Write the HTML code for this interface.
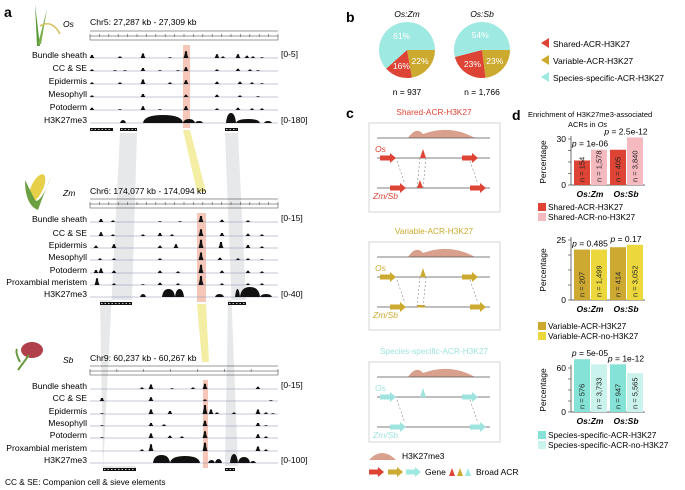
<!DOCTYPE html>
<html><head><meta charset="utf-8"><style>
body{margin:0;background:#fff}
svg{display:block;font-family:"Liberation Sans",Arial,sans-serif}
</style></head><body>
<svg id="fig" width="685" height="490" viewBox="0 0 685 490">
<g id="bg"></g>
<g id="panelA"></g>
<g id="panelB"></g>
<g id="panelC"></g>
<g id="panelD"></g>
</svg>
<script>
// ---------- data ----------
const pieTitles=["Os:Zm","Os:Sb"];
const pieN=["n = 937","n = 1,766"];
const pieShared=[16,23];
const pieVariable=[22,23];
const pieSpecific=[61,54];
const pieLegend=["Shared-ACR-H3K27","Variable-ACR-H3K27","Species-specific-ACR-H3K27"];

const barCats=["Os:Zm","Os:Sb"];
const sharedWith=[16,23], sharedWithout=[23,31];
const sharedNWith=["n = 154","n = 405"], sharedNWithout=["n = 1,578","n = 3,840"];
const sharedP=["p = 1e-06","p = 2.5e-12"];
const varWith=[21,22], varWithout=[21,23];
const varNWith=["n = 207","n = 414"], varNWithout=["n = 1,499","n = 3,052"];
const varP=["p = 0.485","p = 0.17"];
const specWith=[72,65], specWithout=[65,53];
const specNWith=["n = 576","n = 947"], specNWithout=["n = 3,733","n = 5,565"];
const specP=["p = 5e-05","p = 1e-12"];

const NS="http://www.w3.org/2000/svg";
function el(tag,attrs,parent,text){const e=document.createElementNS(NS,tag);for(const k in attrs)e.setAttribute(k,attrs[k]);if(text!==undefined)e.textContent=text;parent.appendChild(e);return e;}
const A=document.getElementById('panelA'),B=document.getElementById('panelB'),C=document.getElementById('panelC'),D=document.getElementById('panelD'),BG=document.getElementById('bg');

// ---------- panel a ----------
let t=el('text',{x:4,y:17,'font-size':14,'font-weight':'bold'},A,'a');

let p=el('polygon',{points:'120,133 137,133 132,300 100,300 103,466 136,466 136,470 103,470',fill:'#e2e4e6',opacity:0.85},BG);

p=el('polygon',{points:'225,133 238,133 246,300 228,300 225,466 238,466',fill:'#e2e4e6',opacity:0.85},BG);

p=el('polygon',{points:'183,130 190,130 206,192 197,192',fill:'#f3ec9a',opacity:0.9},BG);

p=el('polygon',{points:'197,304 206,304 209,362 202,362',fill:'#f3ec9a',opacity:0.9},BG);


const species=[
 {name:'Os',title:'Chr5: 27,287 kb - 27,309 kb',ty:25,ruler:31,hl:[183,190],
  tracks:['Bundle sheath','CC & SE','Epidermis','Mesophyll','Potoderm'],ys:[58,71,84,97,110],hy:123,
  scale:['[0-5]','[0-180]'],
  peaks:[[[92,4],[120,2],[143,6],[170,1],[186,9],[217,5],[223,2],[238,5],[247,3],[253,2],[262,1]],
         [[92,2],[115,1],[125,1],[143,4],[160,1],[178,1],[186,5],[217,2],[238,3],[250,2],[258,1]],
         [[92,2],[120,2],[143,6],[170,2],[186,5],[217,3],[240,3],[252,2],[262,1]],
         [[92,2],[143,4],[186,3],[217,3],[240,2],[258,1]],
         [[92,3],[120,1],[143,5],[160,1],[186,5],[217,2],[238,3],[252,2],[262,2]]],
  broad:[[120,126,3],[143,183,8],[183,195,4],[195,203,2],[226,236,10],[236,260,4],[264,272,2]],
  genes:[[90,113],[120,137],[225,238]],plant:{x:32,y:4}},
 {name:'Zm',title:'Chr6: 174,077 kb - 174,094 kb',ty:194,ruler:199,hl:[197,206],
  tracks:['Bundle sheath','CC & SE','Epidermis','Mesophyll','Potoderm','Proxambial meristem'],ys:[222,236,248,260,273,285],hy:297,
  scale:['[0-15]','[0-40]'],
  peaks:[[[101,4],[113,2],[160,1],[180,1],[201,8],[222,3],[248,2]],
         [[101,5],[113,2],[143,2],[160,4],[172,2],[201,9],[222,4],[248,3],[262,2]],
         [[96,3],[114,5],[160,3],[176,5],[201,11],[221,8],[248,4],[262,2]],
         [[100,2],[114,2],[160,2],[201,10],[220,3],[238,2],[248,2],[262,1]],
         [[96,4],[101,6],[114,3],[160,3],[178,2],[201,11],[222,3],[248,3],[262,2]],
         [[97,9],[114,2],[143,1],[160,3],[178,2],[201,12],[222,2],[248,2],[262,2]]],
  broad:[[140,146,3],[162,175,8],[175,184,8],[215,224,3],[235,240,8],[240,260,10],[260,272,3]],
  genes:[[100,132],[228,246]],plant:{x:20,y:170}},
 {name:'Sb',title:'Chr9: 60,237 kb - 60,267 kb',ty:361,ruler:366,hl:[203,208],
  tracks:['Bundle sheath','CC & SE','Epidermis','Mesophyll','Potoderm','Proxambial meristem'],ys:[389,401,414,426,438,451],hy:463,
  scale:['[0-15]','[0-100]'],
  peaks:[[[142,2],[151,6],[172,1],[193,2],[205,7],[258,3]],
         [[102,4],[151,5],[205,2],[271,1]],
         [[102,1],[151,6],[170,4],[205,12],[211,6],[217,2],[234,2],[258,6],[266,2],[273,1]],
         [[102,1],[151,4],[164,2],[205,7],[258,4],[266,1]],
         [[102,1],[151,6],[170,3],[182,2],[205,9],[258,5],[266,2]],
         [[142,2],[151,9],[205,11],[258,6],[266,2]]],
  broad:[[153,170,8],[170,200,7],[208,215,3],[215,222,4],[230,238,9],[238,250,6],[250,256,2]],
  genes:[[103,136],[225,235]],plant:{x:15,y:337}}
];
function peakPath(base,peaks,w){
  let d='M90,'+base;
  peaks.forEach(pk=>{const x=pk[0],h=pk[1]*0.75;d+=` L${x-w},${base} L${x-w/2},${base-h*0.6} L${x-1},${base-h} L${x+1},${base-h} L${x+w/2},${base-h*0.5} L${x+w},${base}`;});
  return d+' L278,'+base+' Z';
}
species.forEach((s,si)=>{
  const g=el('g',{},A);
  
  const top=s.ruler+14, bot=s.hy+5;
  let r=el('rect',{x:s.hl[0],y:top,width:s.hl[1]-s.hl[0],height:bot-top,fill:'#f4b9a8',opacity:0.8},g);
  
  const pg=el('g',{},g);
  const px=s.plant.x,py=s.plant.y;
  if(si===0){el('path',{d:`M${px+5},${py+42} L${px+3},${py} L${px+8},${py+42} Z`,fill:'#5a9a3a'},pg);el('path',{d:`M${px+6},${py+40} L${px+15},${py+5} L${px+9},${py+40}Z`,fill:'#7ab04a'},pg);el('path',{d:`M${px+8},${py+22} Q${px+20},${py+15} ${px+28},${py+30}`,stroke:'#d9c060',fill:'none','stroke-width':1.5},pg);}
  else if(si===1){el('ellipse',{cx:px+17,cy:py+18,rx:6,ry:15,fill:'#e6d04a',transform:`rotate(25 ${px+17} ${py+18})`},pg);el('path',{d:`M${px+5},${py+10} Q${px+5},${py+35} ${px+18},${py+40} Q${px+25},${py+20} ${px+32},${py+5} Q${px+20},${py+35} ${px+15},${py+30}Z`,fill:'#6aa040'},pg);}
  else {el('ellipse',{cx:px+17,cy:py+13,rx:11,ry:8,fill:'#b0404a'},pg);el('path',{d:`M${px+3},${py+33} L${px+14},${py+18}`,stroke:'#6a9a40','stroke-width':2},pg);el('path',{d:`M${px+5},${py+25} Q${px},${py+15} ${px+2},${py+12}`,stroke:'#6a9a40','stroke-width':2,fill:'none'},pg);}
  t=el('text',{x:63,y:s.ty+2,'font-size':8.5,'font-style':'italic'},g,s.name);
  
  t=el('text',{x:90,y:s.ty,'font-size':8.6},g,s.title);
  
  const rg=el('g',{},g);
  el('line',{x1:90,y1:s.ruler,x2:278,y2:s.ruler,stroke:'#333','stroke-width':0.6},rg);
  el('rect',{x:90,y:s.ruler+5,width:188,height:4,fill:'none',stroke:'#555','stroke-width':0.6},rg);
  const nt=si===2?7:20;
  for(let i=0;i<=nt;i++){const x=90+188*i/nt;el('line',{x1:x,y1:s.ruler+3,x2:x,y2:s.ruler+6,stroke:'#555','stroke-width':0.6},rg);}
  s.tracks.forEach((nm,i)=>{
    const y=s.ys[i];
    t=el('text',{x:87,y:y,'font-size':8.6,'text-anchor':'end'},g,nm);
    
    el('line',{x1:90,y1:y,x2:278,y2:y,stroke:'#8a8fb0','stroke-width':0.6},g);
    const pth=el('path',{d:peakPath(y,s.peaks[i],2.5),fill:'#111'},g);
    
  });
  t=el('text',{x:87,y:s.hy,'font-size':8.6,'text-anchor':'end'},g,'H3K27me3');
  
  el('line',{x1:90,y1:s.hy,x2:278,y2:s.hy,stroke:'#8a8fb0','stroke-width':0.6},g);
  let d='';
  s.broad.forEach(b=>{d+=`M${b[0]},${s.hy} Q${b[0]+1},${s.hy-b[2]} ${(b[0]+b[1])/2},${s.hy-b[2]} Q${b[1]-1},${s.hy-b[2]} ${b[1]},${s.hy} Z `;});
  let bp=el('path',{d:d,fill:'#111'},g);
  
  t=el('text',{x:281,y:s.ys[0]-1,'font-size':8.5},g,s.scale[0]);
  
  t=el('text',{x:281,y:s.hy,'font-size':8.5},g,s.scale[1]);
  
  s.genes.forEach(gn=>{
    let gr=el('rect',{x:gn[0],y:s.hy+5,width:gn[1]-gn[0],height:3,fill:'#111'},g);
    
    el('line',{x1:gn[0]+1,y1:s.hy+6.5,x2:gn[1]-1,y2:s.hy+6.5,stroke:'#fff','stroke-width':0.8,'stroke-dasharray':'1.5,2'},g);
  });
});
t=el('text',{x:5,y:485,'font-size':8.3},A,'CC & SE: Companion cell & sieve elements');


// ---------- panel b ----------
t=el('text',{x:346,y:22,'font-size':14,'font-weight':'bold'},B,'b');

const colRed='#dd4435',colGold='#ccaa30',colCyan='#9ee9e2';
function arc(cx,cy,r,a0,a1,col,parent){
  const rad=a=>(a-90)*Math.PI/180;
  const x0=cx+r*Math.cos(rad(a0)),y0=cy+r*Math.sin(rad(a0)),x1=cx+r*Math.cos(rad(a1)),y1=cy+r*Math.sin(rad(a1));
  return el('path',{d:`M${cx},${cy} L${x0},${y0} A${r},${r} 0 ${a1-a0>180?1:0} 1 ${x1},${y1} Z`,fill:col},parent);
}
pieTitles.forEach((tt,i)=>{
  const cx=407+i*75,cy=50,r=28;
  const g=el('g',{},B);
  const tot=pieShared[i]+pieVariable[i]+pieSpecific[i];
  const aV=pieVariable[i]/tot*360,aS=pieShared[i]/tot*360;
  let s=arc(cx,cy,r,90,90+aV,colGold,g);
  s=arc(cx,cy,r,90+aV,90+aV+aS,colRed,g);
  s=arc(cx,cy,r,90+aV+aS,450,colCyan,g);
  const lab=(mid,rr,txt)=>{const a=(mid-90)*Math.PI/180;const tx=el('text',{x:cx+rr*Math.cos(a),y:cy+rr*Math.sin(a)+3,'font-size':8.5,fill:'#fff','text-anchor':'middle'},g,txt);};
  lab(90+aV/2,17,pieVariable[i]+'%');lab(90+aV+aS/2,17,pieShared[i]+'%');lab((90+aV+aS+450)/2,15,pieSpecific[i]+'%');
  t=el('text',{x:cx,y:17,'font-size':8.5,'font-style':'italic','text-anchor':'middle'},g,tt);
  
  t=el('text',{x:cx,y:95,'font-size':8.5,'text-anchor':'middle'},g,pieN[i]);
  
});
[colRed,colGold,colCyan].forEach((c,i)=>{
  const y=47+i*17;
  const lg=el('g',{},B);
  el('path',{d:`M541,${y-4} L549,${y-9} L549,${y+1} Z`,fill:c},lg);
  el('text',{x:553,y:y,'font-size':8.5},lg,pieLegend[i]);
});

// ---------- panel c ----------
t=el('text',{x:346,y:118,'font-size':14,'font-weight':'bold'},C,'c');

const boxes=[{title:'Shared-ACR-H3K27',col:colRed,ty:115,y:123,h:89,peak2:true},
             {title:'Variable-ACR-H3K27',col:colGold,ty:234,y:242,h:88,peak2:'small'},
             {title:'Species-specific-ACR-H3K27',col:'#9fe3df',ty:354,y:362,h:80,peak2:false}];
boxes.forEach((b,i)=>{
  const g=el('g',{},C);
  t=el('text',{x:434,y:b.ty,'font-size':8.3,fill:b.col,'text-anchor':'middle'},g,b.title);
  
  el('rect',{x:369,y:b.y,width:131,height:b.h,fill:'#fff',stroke:'#ccc','stroke-width':0.8},g);
  const y0=b.y+15,y1=b.y+35,y2=b.y+65;
  el('path',{d:`M408,${y0} Q416,${y0-12} 423,${y0-4} Q450,${y0-14} 475,${y0} Z`,fill:'#d9a08e'},g);
  [y0,y1,y2].forEach(y=>{el('line',{x1:377,y1:y,x2:490,y2:y,stroke:'#555','stroke-width':0.7},g);});
  const arrow=(x,y)=>{el('path',{d:`M${x},${y-2.5} L${x+10},${y-2.5} L${x+10},${y-5} L${x+16},${y} L${x+10},${y+5} L${x+10},${y+2.5} L${x},${y+2.5}Z`,fill:b.col},g);};
  arrow(380,y1);arrow(462,y1);arrow(390,y2);arrow(470,y2);
  el('path',{d:`M420,${y1} L423,${y1-9} L426,${y1} Z`,fill:b.col},g);
  if(b.peak2===true)el('path',{d:`M417,${y2} L420,${y2-8} L423,${y2} Z`,fill:b.col},g);
  if(b.peak2==='small')el('rect',{x:417,y:y2-2,width:8,height:2.5,fill:b.col},g);
  el('line',{x1:397,y1:y1+3,x2:405,y2:y2-4,stroke:'#888','stroke-dasharray':'2,2','stroke-width':0.6},g);
  el('line',{x1:470,y1:y1+3,x2:478,y2:y2-4,stroke:'#888','stroke-dasharray':'2,2','stroke-width':0.6},g);
  if(b.peak2){el('line',{x1:420,y1:y1,x2:417,y2:y2,stroke:'#888','stroke-dasharray':'2,2','stroke-width':0.6},g);el('line',{x1:426,y1:y1,x2:423,y2:y2,stroke:'#888','stroke-dasharray':'2,2','stroke-width':0.6},g);}
  t=el('text',{x:375,y:y1-6,'font-size':8.5,'font-style':'italic',fill:b.col},g,'Os');
  
  t=el('text',{x:373,y:y2+11,'font-size':8.5,'font-style':'italic',fill:b.col},g,'Zm/Sb');
  
});
const cl=el('g',{},C);
el('path',{d:'M369,460 Q382,446 396,460 Z',fill:'#d9a08e'},cl);
el('text',{x:402,y:459,'font-size':8.5},cl,'H3K27me3');
[[369,colRed],[388,colGold],[406,colCyan]].forEach(a=>{const x=a[0],y=472;el('path',{d:`M${x},${y-2.5} L${x+9},${y-2.5} L${x+9},${y-5} L${x+15},${y} L${x+9},${y+5} L${x+9},${y+2.5} L${x},${y+2.5}Z`,fill:a[1]},cl);});
el('text',{x:425,y:475,'font-size':8.5},cl,'Gene');
[[449,colRed],[457,colGold],[465,colCyan]].forEach(a=>el('path',{d:`M${a[0]},476 L${a[0]+3},468 L${a[0]+6},476Z`,fill:a[1]},cl));
el('text',{x:476,y:475,'font-size':8.5},cl,'Broad ACR');

// ---------- panel d ----------
t=el('text',{x:512,y:120,'font-size':14,'font-weight':'bold'},D,'d');

t=el('text',{x:528,y:117,'font-size':7.5},D,'Enrichment of H3K27me3-associated');

t=el('text',{x:568,y:127,'font-size':7.5},D,'ACRs in ');
el('tspan',{'font-style':'italic'},t,'Os');

function barChart(o){
  const g=el('g',{},D);
  const yS=v=>o.y0-(v/o.tick)*(o.y0-o.yT);
  el('line',{x1:571,y1:o.yT-3,x2:571,y2:o.y0,stroke:'#333','stroke-width':0.7},g);
  for(let k=0;k<=4;k++){const yy=o.y0-(o.y0-o.yT)*k/4;el('line',{x1:568,y1:yy,x2:571,y2:yy,stroke:'#333','stroke-width':0.6},g);}
  t=el('text',{x:566,y:o.yT+3,'font-size':8.5,'text-anchor':'end'},g,String(o.tick));
  t=el('text',{x:566,y:o.y0+3,'font-size':8.5,'text-anchor':'end'},g,'0');
  const my=(o.y0+o.yT)/2;
  t=el('text',{x:546,y:my,'font-size':8.5,'text-anchor':'middle',transform:`rotate(-90 546 ${my})`},g,'Percentage');
  
  el('line',{x1:571,y1:o.y0,x2:645,y2:o.y0,stroke:'#333','stroke-width':0.7},g);
  barCats.forEach((c,i)=>{
    const gx=574+i*36;
    [[o.w,o.c1,o.nw],[o.wo,o.c2,o.nwo]].forEach((s,j)=>{
      const x=gx+j*17,top=yS(s[0][i]);
      const r=el('rect',{x:x,y:top,width:16,height:o.y0-top,fill:s[1]},g);
      
      const tx=el('text',{x:0,y:0,'font-size':7.5,'text-anchor':'start',transform:`translate(${x+10.5},${o.y0-3}) rotate(-90)`,fill:'#222'},g,s[2][i]);
      
    });
    t=el('text',{x:gx+16,y:o.y0+12,'font-size':8.5,'font-style':'italic','text-anchor':'middle','font-weight':'bold'},g,c);
    
    const py=Math.min(yS(o.w[i]),yS(o.wo[i]))-3;
    t=el('text',{x:gx+16,y:py,'font-size':8.5,'text-anchor':'middle'},g,'');
    el('tspan',{'font-style':'italic'},t,'p');t.appendChild(document.createTextNode(o.p[i].slice(1)));
    
  });
  o.leg.forEach((L,k)=>{
    const lg=el('g',{},g);
    el('rect',{x:538,y:o.ly+k*10-7,width:8,height:8,fill:k?o.c2:o.c1},lg);
    el('text',{x:548,y:o.ly+k*10,'font-size':8.3},lg,L);
  });
}
barChart({name:'shared-bar-chart',y0:185,yT:139,tick:30,w:sharedWith,wo:sharedWithout,nw:sharedNWith,nwo:sharedNWithout,p:sharedP,c1:'#dd4435',c2:'#f5b9c0',ly:210,leg:['Shared-ACR-H3K27','Shared-ACR-no-H3K27']});
barChart({name:'variable-bar-chart',y0:300,yT:240,tick:25,w:varWith,wo:varWithout,nw:varNWith,nwo:varNWithout,p:varP,c1:'#cda932',c2:'#ecd83c',ly:329,leg:['Variable-ACR-H3K27','Variable-ACR-no-H3K27']});
barChart({name:'species-specific-bar-chart',y0:412,yT:368,tick:60,w:specWith,wo:specWithout,nw:specNWith,nwo:specNWithout,p:specP,c1:'#84e3d6',c2:'#cbf3ee',ly:438,leg:['Species-specific-ACR-H3K27','Species-specific-ACR-no-H3K27']});
</script>
</body></html>
